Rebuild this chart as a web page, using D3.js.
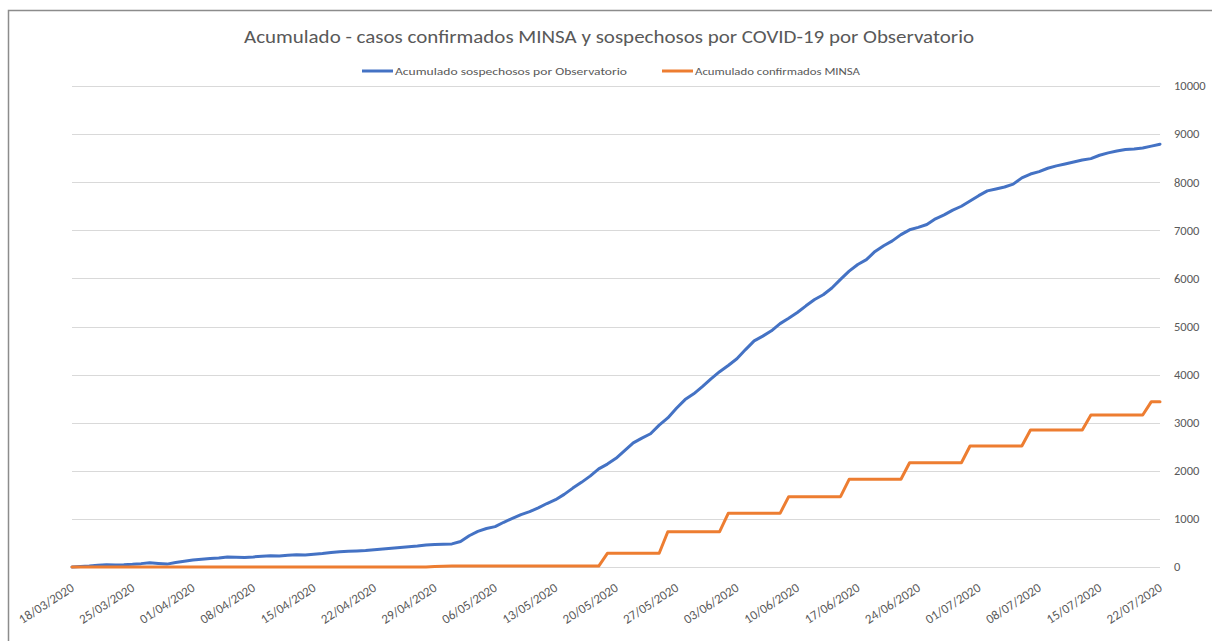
<!DOCTYPE html>
<html lang="es">
<head>
<meta charset="UTF-8" />
<title>Acumulado COVID-19</title>
<script src="https://d3js.org/d3.v7.min.js"></script>
<style>
  body { margin: 0; background: #fff; }
  svg { display: block; font-family: Carlito, Calibri, "Liberation Sans", Arial, sans-serif; }
</style>
</head>
<body>
<div id="chart"></div>
<script>
// ----- Data -----
const startDate = "18/03/2020";
const tickLabels = ["18/03/2020","25/03/2020","01/04/2020","08/04/2020","15/04/2020","22/04/2020",
  "29/04/2020","06/05/2020","13/05/2020","20/05/2020","27/05/2020","03/06/2020","10/06/2020",
  "17/06/2020","24/06/2020","01/07/2020","08/07/2020","15/07/2020","22/07/2020"];
const yTicks = [0,1000,2000,3000,4000,5000,6000,7000,8000,9000,10000];

// one value per day from 18/03/2020
const sospechosos = [
  0,10,20,35,45,40,45,55,70,90,75,60,95,120,145,160,175,185,210,205,
  200,210,225,235,230,245,255,250,265,280,300,315,325,335,345,360,375,390,405,420,
  435,455,470,475,480,530,650,740,800,840,930,1010,1090,1150,1230,1320,1400,1510,1640,1760,
  1890,2040,2140,2260,2420,2580,2680,2770,2950,3100,3300,3480,3600,3750,3910,4060,4190,4330,4520,4700,
  4800,4910,5060,5170,5290,5430,5560,5660,5800,5980,6150,6290,6390,6560,6680,6780,6910,7010,7060,7120,
  7240,7320,7420,7500,7610,7720,7820,7860,7900,7960,8090,8170,8220,8290,8340,8380,8420,8460,8490,8560,
  8610,8650,8680,8690,8710,8750,8790
];
const confirmados = [
  0,0,0,0,0,0,0,0,0,0,0,0,0,0,0,0,0,0,0,0,
  0,0,0,0,0,0,0,0,0,0,0,0,0,0,0,0,0,0,0,0,
  0,0,10,15,20,20,20,20,20,20,20,20,20,20,20,20,20,20,20,20,
  20,20,285,285,285,285,285,285,285,734,734,734,734,734,734,734,1116,1116,1116,1116,
  1116,1116,1116,1462,1462,1462,1462,1462,1462,1462,1823,1823,1823,1823,1823,1823,1823,2168,2168,2168,
  2168,2168,2168,2168,2515,2515,2515,2515,2515,2515,2515,2848,2848,2848,2848,2848,2848,2848,3160,3160,
  3160,3160,3160,3160,3160,3437,3437
];
const seriesNames = ["Acumulado sospechosos por Observatorio", "Acumulado confirmados MINSA"];
const seriesColors = ["#4472C4", "#ED7D31"];

// ----- Setup -----
const W = 1212, H = 641;
const textColor = "#595959";
const parse = d3.timeParse("%d/%m/%Y");
const t0 = parse(startDate);
const dates = sospechosos.map((_, i) => d3.timeDay.offset(t0, i));

const svg = d3.select("#chart").append("svg")
  .attr("width", W).attr("height", H);

// chart frame
svg.append("rect")
  .attr("x", 8.5).attr("y", 10.5)
  .attr("width", W + 50).attr("height", H + 50)
  .attr("fill", "#fff").attr("stroke", "#8c8c8c").attr("stroke-width", 1.5);

const x = d3.scaleTime()
  .domain([t0, parse(tickLabels[tickLabels.length - 1])])
  .range([72, 1160]);
const y = d3.scaleLinear().domain([0, 10000]).range([567, 86]);

// ----- Grid + right axis labels -----
svg.append("g").selectAll("line").data(yTicks).join("line")
  .attr("x1", 72).attr("x2", 1160)
  .attr("y1", d => Math.round(y(d)) + 0.5).attr("y2", d => Math.round(y(d)) + 0.5)
  .attr("stroke", "#d9d9d9").attr("stroke-width", 1);

svg.append("g").selectAll("text").data(yTicks).join("text")
  .attr("x", 1174).attr("y", d => y(d)).attr("dy", "0.35em")
  .attr("font-size", 12.5).attr("fill", textColor)
  .text(d => d);

// ----- X labels (rotated) -----
svg.append("g").selectAll("text").data(tickLabels).join("text")
  .attr("transform", d => `translate(${x(parse(d)) + 3},590) rotate(-33)`)
  .attr("text-anchor", "end")
  .attr("font-size", 13).attr("fill", textColor)
  .text(d => d);

// ----- Lines -----
const line = d3.line()
  .x((d, i) => x(dates[i]))
  .y(d => y(d));

[sospechosos, confirmados].forEach((s, k) => {
  svg.append("path")
    .datum(s)
    .attr("d", line)
    .attr("fill", "none")
    .attr("stroke", seriesColors[k])
    .attr("stroke-width", 3)
    .attr("stroke-linejoin", "round")
    .attr("stroke-linecap", "round");
});

// ----- Title -----
svg.append("text")
  .attr("x", 609).attr("y", 43)
  .attr("text-anchor", "middle")
  .attr("font-size", 19).attr("fill", textColor)
  .attr("textLength", 730).attr("lengthAdjust", "spacingAndGlyphs")
  .text("Acumulado - casos confirmados MINSA y sospechosos por COVID-19 por Observatorio");

// ----- Legend -----
const legend = [
  { x: 362, tx: 395, w: 232 },
  { x: 662, tx: 695, w: 165 }
];
legend.forEach((l, k) => {
  svg.append("line")
    .attr("x1", l.x).attr("x2", l.x + 31)
    .attr("y1", 71).attr("y2", 71)
    .attr("stroke", seriesColors[k]).attr("stroke-width", 3);
  svg.append("text")
    .attr("x", l.tx).attr("y", 75)
    .attr("font-size", 11).attr("fill", textColor)
    .attr("textLength", l.w).attr("lengthAdjust", "spacingAndGlyphs")
    .text(seriesNames[k]);
});
</script>
</body>
</html>
